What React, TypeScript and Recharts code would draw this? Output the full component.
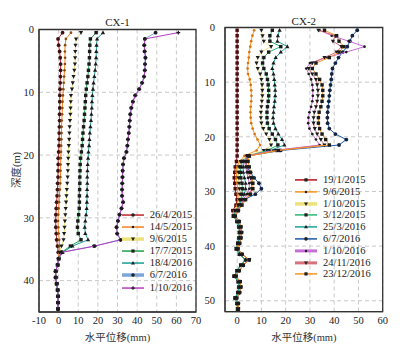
import React from 'react';
import { ScatterChart, Scatter, XAxis, YAxis, CartesianGrid, ReferenceArea, Legend } from 'recharts';

const SERIF = "'Times New Roman', 'Liberation Serif', 'Noto Sans CJK SC', serif";

// depth of each inclinometer reading (m)
const depthsL = [0.5, 1.5, 2.5, 3.5, 4.5, 5.5, 6.5, 7.5, 8.5, 9.5, 10.5, 11.5, 12.5, 13.5, 14.5, 15.5, 16.5, 17.5, 18.5, 19.5, 20.5, 21.5, 22.5, 23.5, 24.5, 25.5, 26.5, 27.5, 28.5, 29.5, 30.5, 31.5, 32.5, 33.5, 34.5, 35.5, 36.5, 37.5, 38.5, 39.5, 40.5, 41.5, 42.5, 43.5, 44.5];
const depthsR = [0.5, 1.5, 2.5, 3.5, 4.5, 5.5, 6.5, 7.5, 8.5, 9.5, 10.5, 11.5, 12.5, 13.5, 14.5, 15.5, 16.5, 17.5, 18.5, 19.5, 20.5, 21.5, 22.5, 23.5, 24.5, 25.5, 26.5, 27.5, 28.5, 29.5, 30.5, 31.5, 32.5, 33.5, 34.5, 35.5, 36.5, 37.5, 38.5, 39.5, 40.5, 41.5, 42.5, 43.5, 44.5, 45.5, 46.5, 47.5, 48.5, 49.5, 50.5, 51.5];

// CX-1 below ~36 m: all dates sit on the same trace
const cx1Deep = [0, -0.5, -1.5, -1.5, -1, -0.5, -0.3, -0.3, -0.3];

const cx1_20150426 = [2, -0.3, 0, 0.5, 0.8, 1, 1, 0.9, 0.8, 0.7, 0.6, 0.6, 0.6, 0.5, 0.5, 0.4, 0.3, 0.3, 0.2, 0, -0.2, -0.2, -0.3, -0.3, -0.5, -0.6, -0.8, -1, -1.2, -1.4, -1.5, -1.4, -1.2, -1, -0.6, -0.2, ...cx1Deep];
const cx1_20150514 = [6.3, 3.7, 3.3, 3.2, 3.3, 3.2, 3, 2.8, 2.6, 2.4, 2.2, 2, 1.9, 1.8, 1.6, 1.5, 1.5, 1.4, 1.3, 1.2, 1.1, 1, 1, 0.9, 0.8, 0.6, 0.4, 0.2, 0, -0.2, -0.3, -0.2, 0, 0.3, 0.5, 0.2, ...cx1Deep];
const cx1_20150609 = [11.4, 8.9, 8.6, 8.5, 8.4, 8.3, 8, 7.6, 7.2, 6.8, 6.3, 6.2, 6.1, 6, 5.8, 5.6, 5.5, 5.4, 5.2, 5, 4.9, 4.8, 4.7, 4.6, 4.4, 4.2, 4, 3.8, 3.6, 3.4, 3.2, 3, 2.8, 2.5, 1.5, 0.5, ...cx1Deep];
const cx1_20150717 = [19.1, 16.2, 15.9, 15.8, 15.7, 15.5, 15.2, 14.9, 14.5, 14.1, 13.8, 13.6, 13.4, 13.2, 13, 12.7, 12.4, 12.2, 12, 11.6, 11.2, 11, 10.9, 10.8, 10.8, 10.7, 10.6, 10.6, 10.5, 10.2, 9.8, 9.6, 10, 11.4, 6, 1.5, ...cx1Deep];
const cx1_20160418 = [22.6, 19.6, 19.3, 19.2, 19.1, 18.9, 18.6, 18.2, 17.8, 17.5, 17.2, 17, 16.9, 16.7, 16.5, 16.2, 15.9, 15.7, 15.5, 15.2, 15, 14.8, 14.7, 14.6, 14.6, 14.5, 14.5, 14.4, 14.3, 14, 13.6, 13.3, 13.6, 15, 7, 2, ...cx1Deep];
const cx1_20160706 = [49.4, 43.9, 43.6, 43.8, 44.2, 44, 43.9, 43.5, 42.5, 41, 39, 37.8, 37, 36.5, 36.2, 36, 35.7, 35.3, 35, 34.5, 33.3, 32.8, 32.6, 32.5, 32.4, 32.3, 32.3, 32.8, 32, 31, 30.2, 29.5, 29.8, 31.5, 18, 1.5, ...cx1Deep];
const cx1_20161001 = [61, 44, 43.7, 43.9, 44.3, 44.1, 44, 43.6, 42.6, 41.1, 39.1, 37.9, 37.1, 36.6, 36.3, 36.1, 35.8, 35.4, 35.1, 34.6, 33.4, 32.9, 32.7, 32.6, 32.5, 32.4, 32.4, 32.9, 32.1, 31.1, 30.3, 29.6, 29.9, 31.6, 18.5, 1.5, ...cx1Deep];

// CX-2 below ~34 m, two bundles of traces
const cx2DeepEarly = [-1.5, 0, 0.8, 1, 0.8, 0.3, -0.3, 1, 3.5, 1.5, 0, -1.2, 0.5, 0.8, 0.3, -0.8, 0, 0.2];
const cx2DeepLate = [-0.8, 0.8, 1.5, 1.8, 1.5, 1, 0.3, 2, 5, 2.5, 0.8, -0.5, 1.2, 1.5, 1, -0.2, 0.5, 0.5];

const cx2_20150119 = [0, 0, 0, 0, 0, 0, 0, 0, 0, 0, 0, 0, 0, 0, 0, 0, 0, 0, 0, 0, 0, 0, 0, 0, -0.3, -0.8, -1, -1.2, -1, -0.8, -0.5, 0, -0.5, -1.8, ...cx2DeepEarly];
const cx2_20150609 = [7, 6.3, 5.8, 5.4, 5, 4.8, 4.5, 4.3, 4.5, 5.2, 5.6, 5.8, 5.9, 5.8, 5.6, 5.5, 5.6, 5.8, 6.4, 7.2, 8.4, 9.5, 8, 3, 1, 0, -0.3, -0.3, 0, 0.2, 0.3, 0.5, 0, -1.2, ...cx2DeepEarly];
const cx2_20151001 = [10, 10.5, 11, 14, 10, 8.5, 8, 8.5, 9.5, 10, 10.3, 10.4, 10.4, 10.2, 10, 9.8, 9.8, 10, 10.8, 12, 13.3, 14, 11, 4, 1.5, 0.8, 0.5, 0.5, 0.8, 1, 1.2, 1, 0.5, -1, ...cx2DeepEarly];
const cx2_20151203 = [14.5, 13.5, 13.5, 18, 13, 11, 10.5, 11, 12, 12.5, 12.8, 13, 13, 12.8, 12.5, 12.3, 12.3, 12.5, 13.2, 14.5, 15.8, 16.8, 12.5, 4.5, 2, 1.5, 1.3, 1.5, 2, 2.2, 2, 1.5, 0.8, -0.5, ...cx2DeepEarly];
const cx2_20160325 = [17.5, 16.8, 16.6, 20.7, 18, 15.9, 15, 14.5, 15, 15.3, 15.5, 15.7, 15.7, 15.5, 15.2, 15, 14.8, 15, 15.8, 17, 18.5, 19.5, 13.5, 5, 2.5, 2.5, 2.5, 3, 3.5, 3.5, 3, 2, 1, -0.3, ...cx2DeepEarly];
const cx2_20160706 = [49.5, 47.5, 46.5, 45.4, 43.5, 41.8, 40.5, 39.3, 39, 38.8, 38.5, 38.2, 38, 37.8, 37.5, 37.3, 37.2, 37.3, 38, 40.5, 45, 42, 18, 4.5, 3.8, 4, 5.5, 7, 9, 10, 7.5, 3, 1.5, 0.5, ...cx2DeepLate];
const cx2_20161001 = [34, 39, 46, 52.5, 45, 37, 30, 28.5, 29.5, 30.5, 31, 31.2, 31.2, 31, 30.5, 29.8, 29.4, 29.3, 29.8, 31, 32.5, 34, 15, 4, 3, 3.5, 4, 4.5, 5, 5, 4, 2.5, 1.5, 0.3, ...cx2DeepLate];
const cx2_20161124 = [33.5, 40.5, 39.5, 43, 41, 36, 31, 29.5, 31, 32.5, 33, 33.3, 33.3, 33, 32.5, 31.8, 31.5, 31.5, 32, 33, 34.5, 36, 16, 4.5, 3.5, 4, 4.5, 5.5, 6, 6, 5, 3, 1.5, 0, ...cx2DeepLate];
const cx2_20161223 = [36, 41, 42, 44, 42, 38, 32.5, 31, 32.5, 34, 35, 35.3, 35.3, 35, 34.5, 33.8, 33.5, 33.5, 34, 35, 36.5, 38, 17, 5, 4.5, 5, 5.5, 6, 6.5, 6.5, 5.5, 3.5, 2, 0.5, ...cx2DeepLate];

const ticksX1 = [-10, 0, 10, 20, 30, 40, 50, 60, 70];
const ticksY1 = [0, 10, 20, 30, 40];
const ticksX2 = [0, 10, 20, 30, 40, 50, 60];
const ticksY2 = [0, 10, 20, 30, 40, 50];

type MarkerType = 'circle' | 'dot' | 'down' | 'up' | 'square' | 'plus';

interface SeriesDef {
  name: string;
  values: number[];
  color: string;
  legendWidth: number;
  marker: MarkerType;
  markerColor: string;
}

const seriesCX1: SeriesDef[] = [
  { name: '26/4/2015', values: cx1_20150426, color: '#c0262d', legendWidth: 1.5, marker: 'circle', markerColor: '#3a1010' },
  { name: '14/5/2015', values: cx1_20150514, color: '#f5821f', legendWidth: 1.5, marker: 'dot', markerColor: '#8a4a10' },
  { name: '9/6/2015', values: cx1_20150609, color: '#ece27c', legendWidth: 3.5, marker: 'down', markerColor: '#1a1a1a' },
  { name: '17/7/2015', values: cx1_20150717, color: '#1f9e4a', legendWidth: 1.5, marker: 'square', markerColor: '#1a1a1a' },
  { name: '18/4/2016', values: cx1_20160418, color: '#1a9c94', legendWidth: 1.5, marker: 'up', markerColor: '#1a1a1a' },
  { name: '6/7/2016', values: cx1_20160706, color: '#7aa6d8', legendWidth: 3.5, marker: 'circle', markerColor: '#1a1a2a' },
  { name: '1/10/2016', values: cx1_20161001, color: '#b93cc0', legendWidth: 1.5, marker: 'plus', markerColor: '#1a1a1a' },
];

const seriesCX2: SeriesDef[] = [
  { name: '19/1/2015', values: cx2_20150119, color: '#b5121b', legendWidth: 1.5, marker: 'square', markerColor: '#4a0d0d' },
  { name: '9/6/2015', values: cx2_20150609, color: '#f7941d', legendWidth: 1.5, marker: 'dot', markerColor: '#d9730f' },
  { name: '1/10/2015', values: cx2_20151001, color: '#eee27a', legendWidth: 3.5, marker: 'down', markerColor: '#1a1a1a' },
  { name: '3/12/2015', values: cx2_20151203, color: '#2bb673', legendWidth: 1.5, marker: 'square', markerColor: '#1a1a1a' },
  { name: '25/3/2016', values: cx2_20160325, color: '#1aa39a', legendWidth: 1.5, marker: 'up', markerColor: '#1a1a1a' },
  { name: '6/7/2016', values: cx2_20160706, color: '#1c5aa6', legendWidth: 1.5, marker: 'circle', markerColor: '#13233f' },
  { name: '1/10/2016', values: cx2_20161001, color: '#c86dd7', legendWidth: 3, marker: 'dot', markerColor: '#1a1a1a' },
  { name: '24/11/2016', values: cx2_20161124, color: '#d9707a', legendWidth: 3, marker: 'down', markerColor: '#1a1a1a' },
  { name: '23/12/2016', values: cx2_20161223, color: '#f7941d', legendWidth: 1.5, marker: 'square', markerColor: '#1a1a1a' },
];

const drawMarker = (type: MarkerType, cx: number, cy: number, s: number, fill: string) => {
  switch (type) {
    case 'circle':
      return <circle cx={cx} cy={cy} r={s} fill={fill} />;
    case 'dot':
      return <circle cx={cx} cy={cy} r={s * 0.7} fill={fill} />;
    case 'square':
      return <rect x={cx - s * 0.9} y={cy - s * 0.9} width={s * 1.8} height={s * 1.8} fill={fill} />;
    case 'up':
      return <path d={`M${cx},${cy - s * 1.2}L${cx + s * 1.1},${cy + s * 0.8}L${cx - s * 1.1},${cy + s * 0.8}Z`} fill={fill} />;
    case 'down':
      return <path d={`M${cx},${cy + s * 1.2}L${cx + s * 1.1},${cy - s * 0.8}L${cx - s * 1.1},${cy - s * 0.8}Z`} fill={fill} />;
    default:
      return <path d={`M${cx - s},${cy}H${cx + s}M${cx},${cy - s}V${cy + s}`} stroke={fill} strokeWidth={1.2} />;
  }
};

const LegendBox = ({ series, rowH }: { series: SeriesDef[]; rowH: number }) => (
  <div style={{ fontFamily: SERIF, fontSize: 10.5, color: '#222' }}>
    {series.map((s) => (
      <div key={s.name} style={{ display: 'flex', alignItems: 'center', height: rowH }}>
        <svg width={22} height={rowH} style={{ overflow: 'visible', flex: 'none' }}>
          <line x1={0} y1={rowH / 2} x2={22} y2={rowH / 2} stroke={s.color} strokeWidth={s.legendWidth} />
          {drawMarker(s.marker, 11, rowH / 2, 1.8, '#222')}
        </svg>
        <span style={{ marginLeft: 6, lineHeight: `${rowH}px`, whiteSpace: 'nowrap' }}>{s.name}</span>
      </div>
    ))}
  </div>
);

interface ProfileChartProps {
  title: string;
  titleY: number;
  series: SeriesDef[];
  depths: number[];
  xDomain: [number, number];
  xTicks: number[];
  yDomain: [number, number];
  yTicks: number[];
  width: number;
  plotLeft: number;
  plotRight: number;
  plotTop: number;
  plotBottom: number;
  tickGap: number;
  legendLeft: number;
  legendTop: number;
  legendRow: number;
}

const HEIGHT = 349;
const tickStyle = { fontSize: 10.5, fill: '#222', fontFamily: SERIF };

const ProfileChart: React.FC<ProfileChartProps> = ({
  title, titleY, series, depths, xDomain, xTicks, yDomain, yTicks,
  width, plotLeft, plotRight, plotTop, plotBottom, tickGap, legendLeft, legendTop, legendRow,
}) => (
  <div style={{ position: 'relative', width, height: HEIGHT }}>
    <ScatterChart
      width={width}
      height={HEIGHT}
      margin={{ top: plotTop, right: width - plotRight, bottom: 0, left: 0 }}
    >
      <CartesianGrid stroke="#c8c8c8" strokeDasharray="4 3" />
      <XAxis
        type="number"
        dataKey="x"
        domain={xDomain}
        ticks={xTicks}
        interval={0}
        allowDataOverflow
        height={HEIGHT - plotBottom}
        tickLine={false}
        tickSize={3}
        tickMargin={2}
        axisLine={{ stroke: '#333' }}
        tick={tickStyle}
        label={{ value: '水平位移(mm)', position: 'insideBottom', offset: 8, style: { fontSize: 10.5, fill: '#333', fontFamily: SERIF } }}
      />
      <YAxis
        type="number"
        dataKey="y"
        domain={yDomain}
        ticks={yTicks}
        interval={0}
        reversed
        allowDataOverflow
        width={plotLeft}
        tickLine={false}
        tickSize={3}
        tickMargin={tickGap}
        axisLine={{ stroke: '#333' }}
        tick={tickStyle}
      />
      <Legend
        layout="vertical"
        align="center"
        verticalAlign="middle"
        wrapperStyle={{ left: legendLeft, top: legendTop, width: 95, height: 'auto' }}
        content={() => <LegendBox series={series} rowH={legendRow} />}
      />
      {series.map((s) => (
        <Scatter
          key={s.name}
          name={s.name}
          data={depths.map((d, i) => ({ x: s.values[i], y: d }))}
          fill={s.markerColor}
          line={{ stroke: s.color, strokeWidth: 1 }}
          shape={(p: any) => drawMarker(s.marker, p.cx, p.cy, 1.9, s.markerColor)}
          isAnimationActive={false}
        />
      ))}
      <ReferenceArea
        x1={xDomain[0]}
        x2={xDomain[1]}
        y1={yDomain[0]}
        y2={yDomain[1]}
        fill="none"
        fillOpacity={0}
        stroke="#333"
        strokeWidth={1.3}
        ifOverflow="visible"
      />
    </ScatterChart>
    <div
      style={{
        position: 'absolute',
        left: (plotLeft + plotRight) / 2,
        top: titleY,
        transform: 'translate(-50%, -50%)',
        fontFamily: SERIF,
        fontSize: 11,
        color: '#222',
        whiteSpace: 'nowrap',
      }}
    >
      {title}
    </div>
  </div>
);

export default function App() {
  return (
    <div style={{ position: 'absolute', left: 0, top: 0, width: 400, height: 349, background: '#fff', overflow: 'hidden' }}>
      <div style={{ position: 'absolute', left: 0, top: 0 }}>
        <ProfileChart
          title="CX-1"
          titleY={21.7}
          series={seriesCX1}
          depths={depthsL}
          xDomain={[-10, 70]}
          xTicks={ticksX1}
          yDomain={[0, 45]}
          yTicks={ticksY1}
          width={206}
          plotLeft={39}
          plotRight={196}
          plotTop={29.5}
          plotBottom={312}
          tickGap={2}
          legendLeft={121.7}
          legendTop={209}
          legendRow={12.1}
        />
      </div>
      <div style={{ position: 'absolute', left: 200, top: 0 }}>
        <ProfileChart
          title="CX-2"
          titleY={20.7}
          series={seriesCX2}
          depths={depthsR}
          xDomain={[-5, 60]}
          xTicks={ticksX2}
          yDomain={[0, 52]}
          yTicks={ticksY2}
          width={200}
          plotLeft={25}
          plotRight={182.7}
          plotTop={27.5}
          plotBottom={311.7}
          tickGap={7}
          legendLeft={95}
          legendTop={174}
          legendRow={11.8}
        />
      </div>
      <div
        style={{
          position: 'absolute',
          left: 15,
          top: 170,
          transform: 'translate(-50%, -50%) rotate(-90deg)',
          fontFamily: SERIF,
          fontSize: 10.5,
          color: '#333',
          whiteSpace: 'nowrap',
        }}
      >
        深度(m)
      </div>
    </div>
  );
}
